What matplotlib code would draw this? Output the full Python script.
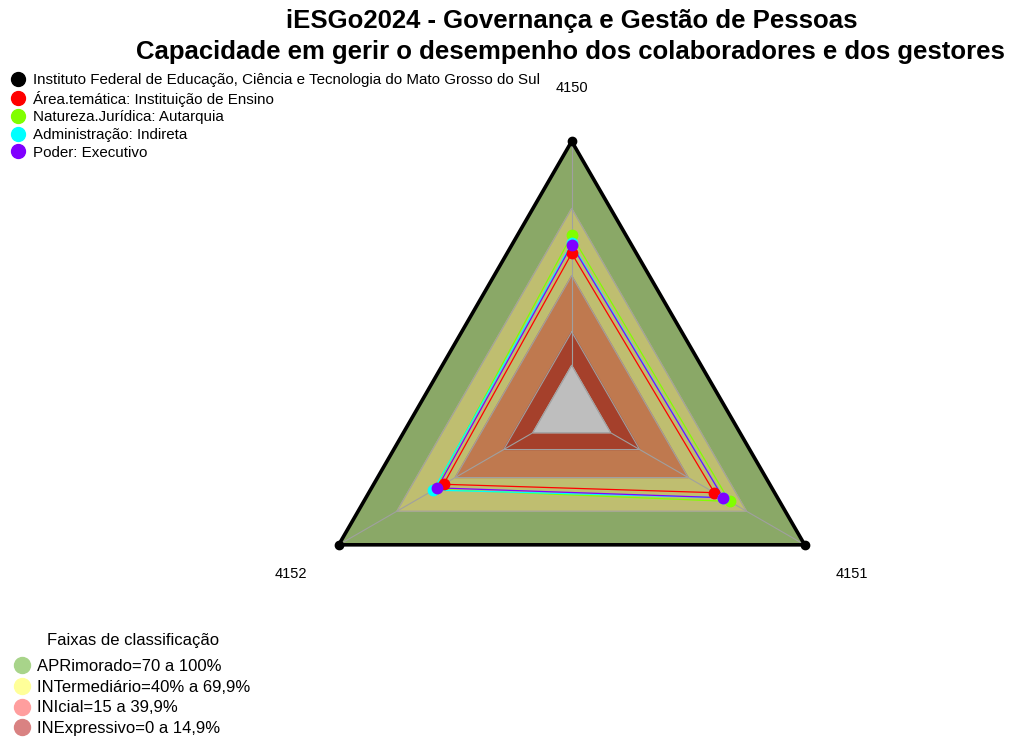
import numpy as np
import matplotlib
matplotlib.use("Agg")
import matplotlib.pyplot as plt
from matplotlib.lines import Line2D

plt.rcParams['font.family'] = ['Liberation Sans', 'DejaVu Sans']

eixos = ['4150', '4151', '4152']
series = [
    'Instituto Federal de Educação, Ciência e Tecnologia do Mato Grosso do Sul',
    'Área.temática: Instituição de Ensino',
    'Natureza.Jurídica: Autarquia',
    'Administração: Indireta',
    'Poder: Executivo',
]
instituto = [100, 100, 100]
area = [50.0, 53.5, 46.0]
natureza = [58.0, 61.3, 50.5]
administracao = [54.5, 58.0, 51.2]
poder = [53.7, 58.0, 49.2]
cores = ['#000000', '#FF0000', '#80FF00', '#00FFFF', '#8000FF']

faixas = [100, 70, 40, 15, 0]
faixas_cores = ['#8AA867', '#BFBE70', '#BF794F', '#A5402B', '#BEBEBE']
faixas_nomes = ['APRimorado=70 a 100%', 'INTermediário=40% a 69,9%',
                'INIcial=15 a 39,9%', 'INExpressivo=0 a 14,9%']
faixas_leg = ['#A8D48A', '#FFFF99', '#FF9E9E', '#D98282']

seg = 5
ang = np.deg2rad([90, -30, 210])


def xy(vals):
    r = (1 + seg * np.array(vals) / 100.0) / (seg + 1)
    return r * np.cos(ang), r * np.sin(ang)


fig = plt.figure(figsize=(10.12, 7.38), dpi=100)
ax = fig.add_axes([0, 0, 1, 1])
ax.set_xlim(-571.7 / 269, (1012 - 571.7) / 269)
ax.set_ylim((410.3 - 738) / 269, 410.3 / 269)
ax.axis('off')

# faixas
for v, c in zip(faixas, faixas_cores):
    x, y = xy([v] * 3)
    ax.fill(x, y, color=c, zorder=1)
    ax.plot(np.append(x, x[0]), np.append(y, y[0]), color='#A0A0A0', lw=0.8, zorder=2)

# eixos (a partir do triangulo central)
x0, y0 = xy([0] * 3)
x1, y1 = xy([100] * 3)
for i in range(3):
    ax.plot([x0[i], x1[i]], [y0[i], y1[i]], color='#A0A0A0', lw=0.8, zorder=2)

# series
dados = [instituto, area, natureza, administracao, poder]
for k, (vals, c) in enumerate(zip(dados, cores)):
    x, y = xy(vals)
    if k == 0:
        ax.plot(np.append(x, x[0]), np.append(y, y[0]), color=c, lw=2.6, zorder=3)
        ax.plot(x, y, 'o', color=c, ms=6, zorder=3)
    else:
        ax.plot(np.append(x, x[0]), np.append(y, y[0]), color=c, lw=0.9, zorder=4)
        ax.plot(x, y, 'o', color=c, ms=7.5, zorder=5)

# rotulos dos eixos
xl, yl = xy([124.5] * 3)
for i, nome in enumerate(eixos):
    ax.text(xl[i], yl[i], nome, ha='center', va='center_baseline', fontsize=10.5)

fig.text(0.565, 0.971, 'iESGo2024 - Governança e Gestão de Pessoas',
         ha='center', va='center', fontsize=18.5, fontweight='bold')
fig.text(0.564, 0.929, 'Capacidade em gerir o desempenho dos colaboradores e dos gestores',
         ha='center', va='center', fontsize=18.5, fontweight='bold')

h1 = [Line2D([], [], ls='', marker='o', color=c, ms=10) for c in cores]
leg1 = fig.legend(h1, series, loc='upper left', bbox_to_anchor=(0.012, 0.901),
                  frameon=False, fontsize=10.9, handlelength=0.8, handletextpad=0.6,
                  labelspacing=0.24, borderaxespad=0, borderpad=0)

fig.text(133 / 1012, 1 - 640 / 738, 'Faixas de classificação',
         ha='center', va='center', fontsize=12)
h2 = [Line2D([], [], ls='', marker='o', color=c, ms=11.5) for c in faixas_leg]
leg2 = fig.legend(h2, faixas_nomes, loc='upper left', bbox_to_anchor=(0.0143, 1 - 659 / 738),
                  frameon=False, fontsize=12, handlelength=0.9, handletextpad=0.45,
                  labelspacing=0.34, borderaxespad=0, borderpad=0)

fig.savefig('out.png', dpi=100)
